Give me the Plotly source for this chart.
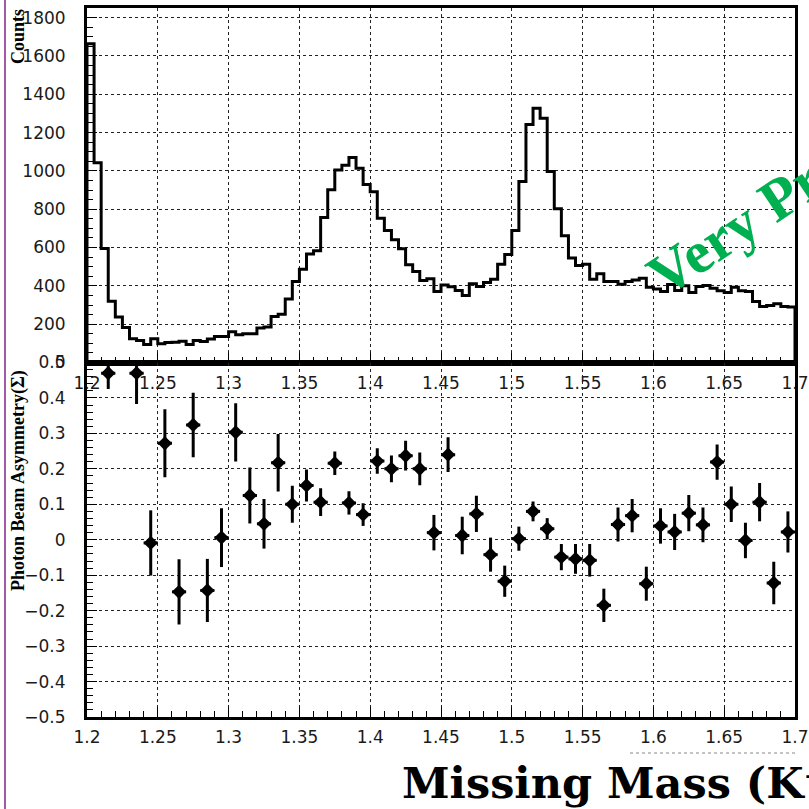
import numpy as np
import plotly.graph_objects as go

# ---------------- data ----------------
bin_width = 0.005
bin_low_edges = np.round(1.2 + bin_width * np.arange(100), 3)
counts = [1663, 1042, 595, 320, 237, 183, 124, 115, 94, 124, 98, 104, 106, 111, 94, 115, 110, 122, 136, 136, 160, 145, 150, 150, 180,
          185, 240, 252, 331, 423, 487, 566, 583, 757, 901, 1005, 1030, 1070, 1014, 929, 891, 753, 689, 640, 593, 510, 475, 428, 437, 370,
          404, 395, 376, 350, 411, 397, 417, 435, 513, 564, 689, 944, 1242, 1327, 1275, 997, 802, 661, 545, 506, 513, 435, 463, 423, 423,
          409, 423, 431, 440, 393, 383, 370, 407, 376, 400, 365, 397, 402, 388, 374, 365, 393, 374, 370, 318, 292, 297, 306, 292, 289]

asym_mass = [1.215, 1.235, 1.245, 1.255, 1.265, 1.275, 1.285, 1.295, 1.305, 1.315, 1.325, 1.335, 1.345, 1.355, 1.365, 1.375,
             1.385, 1.395, 1.405, 1.415, 1.425, 1.435, 1.445, 1.455, 1.465, 1.475, 1.485, 1.495, 1.505, 1.515, 1.525, 1.535,
             1.545, 1.555, 1.565, 1.575, 1.585, 1.595, 1.605, 1.615, 1.625, 1.635, 1.645, 1.655, 1.665, 1.675, 1.685, 1.695]
asym_sigma = [0.47, 0.47, -0.009, 0.272, -0.147, 0.324, -0.143, 0.006, 0.303, 0.125, 0.045, 0.217, 0.100, 0.153, 0.106, 0.216,
              0.104, 0.071, 0.222, 0.200, 0.237, 0.200, 0.020, 0.240, 0.012, 0.073, -0.042, -0.117, 0.003, 0.080, 0.031, -0.049,
              -0.054, -0.058, -0.185, 0.043, 0.068, -0.124, 0.039, 0.022, 0.075, 0.042, 0.219, 0.100, -0.002, 0.106, -0.122, 0.022]
asym_err = [0.045, 0.087, 0.092, 0.096, 0.092, 0.091, 0.089, 0.083, 0.082, 0.079, 0.070, 0.081, 0.052, 0.045, 0.039, 0.033,
            0.033, 0.032, 0.036, 0.038, 0.042, 0.046, 0.050, 0.049, 0.053, 0.051, 0.048, 0.044, 0.034, 0.028, 0.030, 0.037,
            0.042, 0.046, 0.047, 0.048, 0.047, 0.048, 0.050, 0.051, 0.051, 0.049, 0.050, 0.050, 0.050, 0.054, 0.060, 0.058]

x_ticks = [1.2, 1.25, 1.3, 1.35, 1.4, 1.45, 1.5, 1.55, 1.6, 1.65, 1.7]
count_ticks = [0, 200, 400, 600, 800, 1000, 1200, 1400, 1600, 1800]
asym_ticks = [-0.5, -0.4, -0.3, -0.2, -0.1, 0, 0.1, 0.2, 0.3, 0.4, 0.5]
asym_tick_text = ["\u22120.5", "\u22120.4", "\u22120.3", "\u22120.2", "\u22120.1", "0", "0.1", "0.2", "0.3", "0.4", "0.5"]

# ---------------- figure ----------------
W = H = 809
tick_font = dict(family="DejaVu Sans ExtraLight, DejaVu Sans", size=17, color="#1a1a1a")
serif_bold = "Liberation Serif"

# histogram outline (step)
hx = [1.2] + list(bin_low_edges) + [1.7, 1.7]
hy = [0] + list(counts) + [counts[-1], 0]

fig = go.Figure()
fig.add_trace(go.Scatter(x=hx, y=hy, mode="lines", line=dict(color="black", width=3, shape="hv"),
                         xaxis="x", yaxis="y", showlegend=False, hoverinfo="skip"))
fig.add_trace(go.Scatter(x=asym_mass, y=asym_sigma, mode="markers",
                         marker=dict(symbol="diamond", size=11, color="black"),
                         error_y=dict(type="data", array=asym_err, color="black", thickness=3, width=0),
                         error_x=dict(type="constant", value=bin_width, color="black", thickness=3, width=0),
                         xaxis="x2", yaxis="y2", showlegend=False))

x0, x1 = 87 / W, 795 / W
ytop = 1 - 8 / W
ymid = 1 - 362.5 / W
ybot = 1 - 717 / W

common_x = dict(range=[1.2, 1.7], tickvals=x_ticks, ticktext=[str(v) for v in x_ticks],
                showline=True, linewidth=3, linecolor="black", mirror=True,
                ticks="inside", ticklen=10, tickwidth=1, tickcolor="black",
                minor=dict(dtick=0.01, tick0=1.2, ticks="inside", ticklen=6, tickcolor="black", showgrid=False),
                showgrid=True, gridcolor="#222", griddash="dot", gridwidth=1,
                zeroline=False, tickfont=tick_font, ticklabelstandoff=3, automargin=False)
common_y = dict(showline=True, linewidth=3, linecolor="black", mirror=True,
                ticks="inside", ticklen=10, tickwidth=1, tickcolor="black",
                showgrid=True, gridcolor="#222", griddash="dot", gridwidth=1,
                zeroline=False, tickfont=tick_font, ticklabelstandoff=15, automargin=False)

fig.update_layout(
    width=W, height=H, margin=dict(l=0, r=0, t=0, b=0, autoexpand=False),
    paper_bgcolor="white", plot_bgcolor="rgba(0,0,0,0)",
    xaxis=dict(domain=[x0, x1], anchor="y", **common_x),
    yaxis=dict(domain=[ymid, ytop], anchor="x", range=[0, 1850], tickvals=count_ticks,
               minor=dict(dtick=50, tick0=0, ticks="inside", ticklen=6, tickcolor="black", showgrid=False),
               **common_y),
    xaxis2=dict(domain=[x0, x1], anchor="y2", **common_x),
    yaxis2=dict(domain=[ybot, ymid], anchor="x2", range=[-0.5, 0.5], tickvals=asym_ticks,
                ticktext=asym_tick_text,
                minor=dict(dtick=0.02, tick0=0, ticks="inside", ticklen=6, tickcolor="black", showgrid=False),
                **common_y),
)

# left purple border line
fig.add_shape(type="line", xref="paper", yref="paper", x0=5 / W, x1=5 / W, y0=0, y1=1,
              line=dict(color="#a05aa8", width=2))
# faint dotted fragment above title
fig.add_shape(type="line", xref="paper", yref="paper", x0=630 / W, x1=795 / W, y0=1 - 753 / W, y1=1 - 753 / W,
              line=dict(color="#888", width=1, dash="dot"))

fig.add_annotation(text="<b>Counts</b>", xref="paper", yref="paper", x=18 / W, y=1 - 37 / W,
                   textangle=-90, showarrow=False, font=dict(family=serif_bold, size=18, color="black"),
                   xanchor="center", yanchor="middle")
fig.add_annotation(text="<b>Photon Beam Asymmetry(\u03a3)</b>", xref="paper", yref="paper", x=18 / W, y=1 - 481 / W,
                   textangle=-90, showarrow=False, font=dict(family=serif_bold, size=18, color="black"),
                   xanchor="center", yanchor="middle")
fig.add_annotation(text="<b>Missing Mass (K\u207a)</b>", xref="paper", yref="paper", x=400 / W, y=1 - 783 / W,
                   showarrow=False, font=dict(family="DejaVu Serif", size=43, color="black"),
                   xanchor="left", yanchor="middle")
fig.add_annotation(text="<b>Very Preliminary</b>", xref="paper", yref="paper", x=836 / W, y=1 - 160 / W,
                   textangle=-33.6, showarrow=False, font=dict(family=serif_bold, size=59, color="#00b050"),
                   xanchor="center", yanchor="middle")

fig.write_html("out.html")
